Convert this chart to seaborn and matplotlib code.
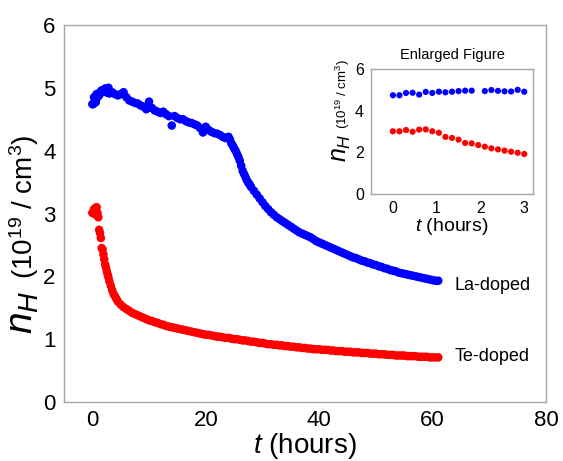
import matplotlib
matplotlib.use("Agg")
import matplotlib.pyplot as plt
import numpy as np
import pandas as pd
import seaborn as sns

# ---------------- data ----------------
t_early_te = [0.0, 0.15, 0.3, 0.45, 0.6, 0.75, 0.9, 1.05, 1.2, 1.35, 1.5,
              1.65, 1.8, 1.95, 2.1, 2.25, 2.4, 2.55, 2.7, 2.85, 3.0]
te_early = [3.01, 3.01, 3.07, 2.99, 3.09, 3.10, 3.01, 2.94, 2.74, 2.69, 2.61,
            2.45, 2.43, 2.35, 2.27, 2.19, 2.14, 2.08, 2.03, 1.98, 1.92]

t_early_la = [0.0, 0.15, 0.3, 0.45, 0.6, 0.75, 0.9, 1.05, 1.2, 1.35, 1.5,
              1.65, 1.8, 2.1, 2.25, 2.4, 2.55, 2.7, 2.85, 3.0]
la_early = [4.74, 4.74, 4.85, 4.86, 4.77, 4.90, 4.85, 4.91, 4.88, 4.91, 4.94,
            4.96, 4.96, 4.94, 4.99, 4.95, 4.93, 4.92, 5.00, 4.91]

t_late = [3.5, 4.0, 4.5,
          5.0, 5.5, 6.0, 6.5, 7.0, 7.5, 8.0, 8.5, 9.0, 9.5,
          10.0, 10.5, 11.0, 11.5, 12.0, 12.5, 13.0, 13.5, 14.0, 14.5,
          15.0, 15.5, 16.0, 16.5, 17.0, 17.5, 18.0, 18.5, 19.0, 19.5,
          20.0, 20.5, 21.0, 21.5, 22.0, 22.5, 23.0, 23.5, 24.0, 24.5,
          25.0, 25.5, 26.0, 26.5, 27.0, 27.5, 28.0, 28.5, 29.0, 29.5,
          30.0, 30.5, 31.0, 31.5, 32.0, 32.5, 33.0, 33.5, 34.0, 34.5,
          35.0, 35.5, 36.0, 36.5, 37.0, 37.5, 38.0, 38.5, 39.0, 39.5,
          40.0, 40.5, 41.0, 41.5, 42.0, 42.5, 43.0, 43.5, 44.0, 44.5,
          45.0, 45.5, 46.0, 46.5, 47.0, 47.5, 48.0, 48.5, 49.0, 49.5,
          50.0, 50.5, 51.0, 51.5, 52.0, 52.5, 53.0, 53.5, 54.0, 54.5,
          55.0, 55.5, 56.0, 56.5, 57.0, 57.5, 58.0, 58.5, 59.0, 59.5,
          60.0, 60.5, 61.0]

te_late = [1.78, 1.68, 1.60,
           1.55, 1.51, 1.48, 1.45, 1.42, 1.40, 1.38, 1.36, 1.34, 1.32,
           1.30, 1.29, 1.27, 1.26, 1.24, 1.23, 1.21, 1.20, 1.19, 1.18,
           1.17, 1.16, 1.15, 1.14, 1.13, 1.12, 1.11, 1.10, 1.09, 1.08,
           1.07, 1.07, 1.06, 1.05, 1.04, 1.04, 1.03, 1.02, 1.02, 1.01,
           1.00, 1.00, 0.99, 0.98, 0.98, 0.97, 0.96, 0.96, 0.95, 0.94,
           0.94, 0.93, 0.92, 0.92, 0.91, 0.91, 0.90, 0.90, 0.89, 0.89,
           0.88, 0.88, 0.87, 0.87, 0.86, 0.86, 0.85, 0.85, 0.84, 0.84,
           0.84, 0.83, 0.83, 0.83, 0.82, 0.82, 0.81, 0.81, 0.81, 0.80,
           0.80, 0.80, 0.79, 0.79, 0.79, 0.78, 0.78, 0.78, 0.77, 0.77,
           0.77, 0.76, 0.76, 0.76, 0.75, 0.75, 0.75, 0.74, 0.74, 0.74,
           0.74, 0.73, 0.73, 0.73, 0.73, 0.72, 0.72, 0.72, 0.72, 0.71,
           0.71, 0.71, 0.71]

la_late = [4.93, 4.90, 4.88,
           4.90, 4.93, 4.85, 4.80, 4.78, 4.76, 4.75, 4.72, 4.70, 4.66,
           4.78, 4.68, 4.64, 4.62, 4.60, 4.62, 4.58, 4.55, 4.40, 4.55,
           4.52, 4.50, 4.50, 4.47, 4.45, 4.44, 4.42, 4.40, 4.36, 4.29,
           4.38, 4.33, 4.30, 4.28, 4.27, 4.25, 4.22, 4.20, 4.22, 4.12,
           4.04, 3.95, 3.84, 3.68, 3.58, 3.49, 3.42, 3.36, 3.30, 3.24,
           3.18, 3.12, 3.07, 3.02, 2.98, 2.94, 2.91, 2.88, 2.85, 2.82,
           2.79, 2.76, 2.73, 2.70, 2.68, 2.66, 2.64, 2.62, 2.59, 2.56,
           2.54, 2.52, 2.50, 2.48, 2.46, 2.44, 2.42, 2.40, 2.38, 2.36,
           2.34, 2.32, 2.30, 2.29, 2.27, 2.25, 2.24, 2.22, 2.21, 2.19,
           2.18, 2.16, 2.15, 2.13, 2.12, 2.10, 2.09, 2.08, 2.06, 2.05,
           2.04, 2.03, 2.02, 2.01, 2.00, 1.99, 1.98, 1.97, 1.96, 1.95,
           1.94, 1.93, 1.93]

# extra readings where the curves are steep
t_extra_la = [24.25, 24.75, 25.25, 25.75, 26.25, 26.75, 27.25, 27.75]
la_extra = [4.18, 4.08, 4.00, 3.90, 3.76, 3.63, 3.53, 3.46]
t_extra_te = [3.25, 3.75, 4.25]
te_extra = [1.85, 1.72, 1.64]

series_names = ["La-doped", "Te-doped"]
colors = {"La-doped": "#0000ff", "Te-doped": "#ff0000"}

main_xticks = [0, 20, 40, 60, 80]
main_yticks = [0, 1, 2, 3, 4, 5, 6]
inset_xticks = [0, 1, 2, 3]
inset_yticks = [0, 2, 4, 6]

# ---------------- frames ----------------
df_main = pd.concat([
    pd.DataFrame({"t": t_early_la + t_late + t_extra_la,
                  "n": la_early + la_late + la_extra, "sample": "La-doped"}),
    pd.DataFrame({"t": t_early_te + t_late + t_extra_te,
                  "n": te_early + te_late + te_extra, "sample": "Te-doped"}),
], ignore_index=True)
df_inset = pd.concat([
    pd.DataFrame({"t": t_early_la, "n": la_early, "sample": "La-doped"}),
    pd.DataFrame({"t": t_early_te, "n": te_early, "sample": "Te-doped"}),
], ignore_index=True)

# ---------------- style ----------------
sns.set_style("white")
plt.rcParams["font.family"] = ["Liberation Sans", "DejaVu Sans"]
plt.rcParams["mathtext.fontset"] = "custom"
plt.rcParams["mathtext.rm"] = "Liberation Sans"
plt.rcParams["mathtext.it"] = "Liberation Sans:italic"
plt.rcParams["mathtext.bf"] = "Liberation Sans:bold"
plt.rcParams["text.color"] = "black"
plt.rcParams["axes.labelcolor"] = "black"

SPINE = "#a6a6a6"

W, H = 563, 461
fig = plt.figure(figsize=(W / 100, H / 100), dpi=100)
fig.patch.set_facecolor("white")

def px_axes(l, t, r, b):
    return fig.add_axes([l / W, 1 - b / H, (r - l) / W, (b - t) / H])

ax = px_axes(64, 25, 546, 402)
sns.scatterplot(data=df_main, x="t", y="n", hue="sample", palette=colors,
                hue_order=series_names, s=38, linewidth=0, legend=False, ax=ax)
ax.set_xlim(-5, 80)
ax.set_ylim(0, 6)
ax.set_xticks(main_xticks)
ax.set_yticks(main_yticks)
ax.tick_params(axis="both", labelsize=16, length=4, width=1, color=SPINE,
               labelcolor="black", direction="out", pad=2)
for sp in ax.spines.values():
    sp.set_color(SPINE)
    sp.set_linewidth(1)
ax.set_xlabel(r"$t$ (hours)", fontsize=20, labelpad=0, color="black")
ax.set_ylabel("")
fig.text(33 / W, 1 - 334 / H, r"$n_H$", fontsize=28, rotation=90,
         rotation_mode="anchor", ha="left", va="baseline", color="black")
fig.text(33 / W, 1 - 279 / H, r"(10$^{19}$ / cm$^{3}$)", fontsize=20,
         rotation=90, rotation_mode="anchor", ha="left", va="baseline",
         color="black")

ax.text(63.8, 1.85, "La-doped", fontsize=13, ha="left", va="center", color="black")
ax.text(63.8, 0.73, "Te-doped", fontsize=13, ha="left", va="center", color="black")

# ---------------- inset ----------------
ax2 = px_axes(371, 69, 533, 194)
sns.scatterplot(data=df_inset, x="t", y="n", hue="sample", palette=colors,
                hue_order=series_names, s=20, linewidth=0, legend=False, ax=ax2)
ax2.set_xlim(-0.5, 3.2)
ax2.set_ylim(0, 6)
ax2.set_xticks(inset_xticks)
ax2.set_yticks(inset_yticks)
ax2.set_yticks([1, 3, 5], minor=True)
ax2.tick_params(axis="both", labelsize=11.5, length=3, width=1, color=SPINE,
                labelcolor="black", direction="out", pad=2)
ax2.tick_params(axis="y", which="minor", length=2, width=1, color=SPINE,
                direction="out")
for sp in ax2.spines.values():
    sp.set_color(SPINE)
    sp.set_linewidth(1)
ax2.set_title("Enlarged Figure", fontsize=10.5, pad=7, color="black")
ax2.set_xlabel(r"$t$ (hours)", fontsize=14, labelpad=0, color="black")
ax2.set_ylabel("")
fig.text(347 / W, 1 - 162 / H, r"$n_H$", fontsize=18, rotation=90,
         rotation_mode="anchor", ha="left", va="baseline", color="black")
fig.text(347 / W, 1 - 129 / H, r"(10$^{19}$ / cm$^{3}$)", fontsize=9.5,
         rotation=90, rotation_mode="anchor", ha="left", va="baseline",
         color="black")

fig.savefig("out.png", dpi=100, facecolor="white")
